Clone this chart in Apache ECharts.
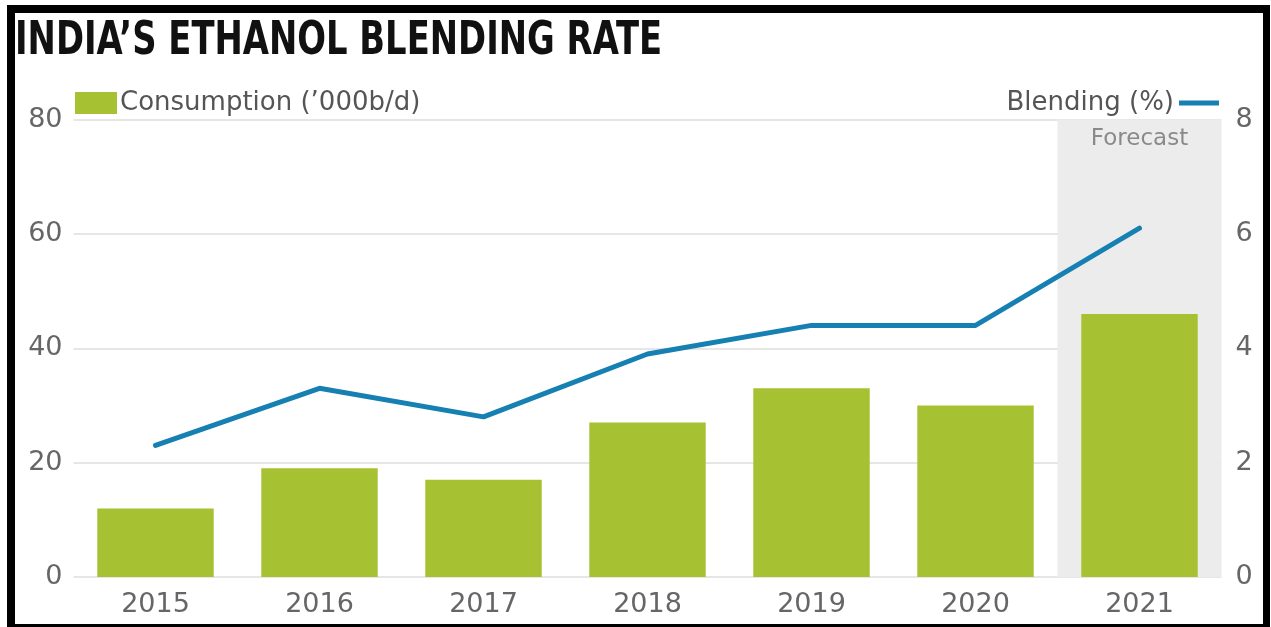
<!DOCTYPE html>
<html>
<head>
<meta charset="utf-8">
<script src="https://cdn.jsdelivr.net/npm/echarts@6/dist/echarts.min.js"></script>
<style>
  html, body { margin: 0; padding: 0; background: #fff; overflow: hidden; }
  #chart { width: 1271px; height: 627px; }
  #frame {
    position: absolute; left: 7px; top: 5px; width: 1248px; height: 611px;
    border-style: solid; border-color: #000; border-width: 8px 7px 3px 8px;
    pointer-events: none;
  }
</style>
</head>
<body>
<div id="chart"></div>
<div id="frame"></div>
<script>
var years = ['2015', '2016', '2017', '2018', '2019', '2020', '2021'];
var consumption = [12, 19, 17, 27, 33, 30, 46];
var blending = [2.3, 3.3, 2.8, 3.9, 4.4, 4.4, 6.1];
var forecastBand = ['-', '-', '-', '-', '-', '-', 80];
var leftTicks = [0, 80, 20];
var rightTicks = [0, 8, 2];

var myChart = echarts.init(document.getElementById('chart'));
var labelFont = 'DejaVu Sans';
var option = {
    animation: false,
    graphic: [
        {
            // title, squeezed sideways to look like the condensed original
            type: 'text',
            left: 15,
            top: 18,
            scaleX: 0.8,
            style: {
                text: 'INDIA\u2019S ETHANOL BLENDING RATE',
                font: 'bold 47px "DejaVu Sans Condensed", "DejaVu Sans", sans-serif',
                fill: '#111'
            }
        }
    ],
    legend: [
        {
            data: ['Consumption (\u2019000b/d)'],
            left: 70,
            top: 85,
            icon: 'rect',
            itemWidth: 42,
            itemHeight: 22,
            itemGap: 4,
            textStyle: { fontFamily: labelFont, fontSize: 26, color: '#555', padding: [0, 0, 0, -2] }
        },
        {
            data: ['Blending (%)'],
            right: 47,
            top: 85,
            align: 'right',
            icon: 'rect',
            itemWidth: 40,
            itemHeight: 5,
            textStyle: { fontFamily: labelFont, fontSize: 26, color: '#555' }
        }
    ],
    grid: {
        left: 73.5,
        right: 49.5,
        top: 119.5,
        bottom: 50
    },
    xAxis: [
        {
            type: 'category',
            data: years,
            axisLine: { show: false },
            axisTick: { show: false },
            axisLabel: { fontFamily: labelFont, fontSize: 27, color: '#666', margin: 14 }
        },
        {
            type: 'category',
            data: years,
            show: false
        }
    ],
    yAxis: [
        {
            type: 'value',
            min: leftTicks[0],
            max: leftTicks[1],
            interval: leftTicks[2],
            axisLine: { show: false },
            axisTick: { show: false },
            axisLabel: { fontFamily: labelFont, fontSize: 27, color: '#666', margin: 11 },
            splitLine: { lineStyle: { color: '#e6e6e6', width: 2 } }
        },
        {
            type: 'value',
            min: rightTicks[0],
            max: rightTicks[1],
            interval: rightTicks[2],
            axisLine: { show: false },
            axisTick: { show: false },
            axisLabel: { fontFamily: labelFont, fontSize: 27, color: '#666', margin: 14 },
            splitLine: { show: false }
        }
    ],
    series: [
        {
            name: 'Forecast',
            type: 'bar',
            xAxisIndex: 1,
            yAxisIndex: 0,
            barWidth: '100%',
            data: forecastBand,
            itemStyle: { color: '#ececec' },
            label: {
                show: true,
                position: 'insideTop',
                distance: 8,
                formatter: 'Forecast',
                fontFamily: labelFont,
                fontSize: 23,
                color: '#8a8a8a'
            },
            z: 1,
            silent: true
        },
        {
            name: 'Consumption (\u2019000b/d)',
            type: 'bar',
            yAxisIndex: 0,
            barWidth: '71%',
            data: consumption,
            itemStyle: { color: '#a6c232' },
            z: 3
        },
        {
            name: 'Blending (%)',
            type: 'line',
            yAxisIndex: 1,
            data: blending,
            symbol: 'none',
            lineStyle: { color: '#1680b3', width: 5, cap: 'round' },
            itemStyle: { color: '#1680b3' },
            z: 4
        }
    ]
};
myChart.setOption(option);
</script>
</body>
</html>
